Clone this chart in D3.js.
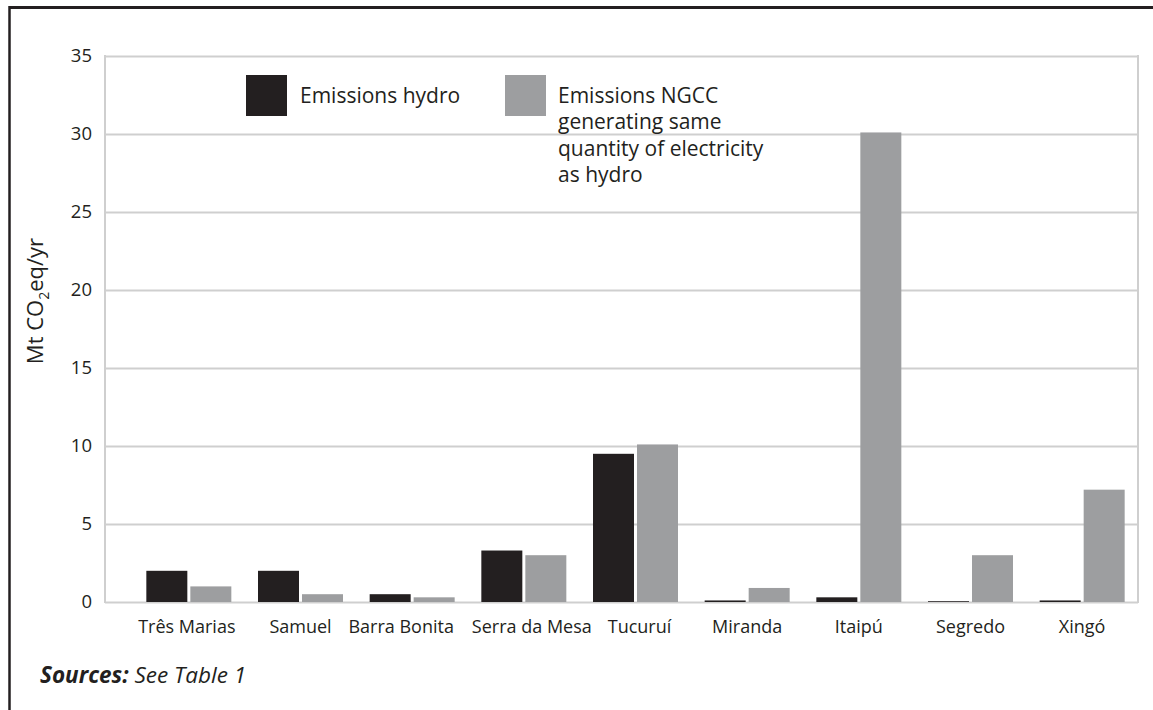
<!DOCTYPE html>
<html>
<head>
<meta charset="utf-8">
<script src="https://cdn.jsdelivr.net/npm/d3@7/dist/d3.min.js"></script>
<style>
  html, body { margin: 0; padding: 0; background: #fff; }
  svg { display: block; font-family: "Open Sans", "Noto Sans", sans-serif; }
</style>
</head>
<body>
<svg id="chart" width="1153" height="710"></svg>
<script>
const categories = ["Três Marias", "Samuel", "Barra Bonita", "Serra da Mesa", "Tucuruí", "Miranda", "Itaipú", "Segredo", "Xingó"];
const seriesNames = ["Emissions hydro", "Emissions NGCC generating same quantity of electricity as hydro"];
const hydroValues = [2.0, 2.0, 0.5, 3.3, 9.5, 0.1, 0.3, 0.05, 0.1];
const ngccValues = [1.0, 0.5, 0.3, 3.0, 10.1, 0.9, 30.1, 3.0, 7.2];
const yTicks = [0, 5, 10, 15, 20, 25, 30, 35];
const seriesColors = ["#231f20", "#9d9ea0"];

const svg = d3.select("#chart");
const plot = { left: 105, right: 1138, top: 56, bottom: 602 };

const y = d3.scaleLinear().domain([0, 35]).range([plot.bottom, plot.top]);
const x = d3.scaleBand().domain(categories).range([133, 1138])
  .paddingInner(1 - 85 / 111.67).paddingOuter((1 - 85 / 111.67) / 2);
const xs = d3.scaleBand().domain([0, 1]).range([0, x.bandwidth()]).paddingInner(3 / 44);

// frame
svg.append("line").attr("x1", 9).attr("x2", 1153).attr("y1", 7.5).attr("y2", 7.5)
  .attr("stroke", "#231f20").attr("stroke-width", 3);
svg.append("line").attr("x1", 9.5).attr("x2", 9.5).attr("y1", 6).attr("y2", 710)
  .attr("stroke", "#231f20").attr("stroke-width", 2.5);

// gridlines
const yAxis = d3.axisLeft(y).tickValues(yTicks).tickSize(-(plot.right - plot.left)).tickPadding(13);
const gy = svg.append("g").attr("transform", `translate(${plot.left},0)`).call(yAxis);
gy.select(".domain").remove();
gy.selectAll(".tick line").attr("stroke", "#cfcfcf").attr("stroke-width", 2);
gy.selectAll(".tick text").attr("font-size", 18.5).attr("fill", "#231f20")
  .attr("font-family", "'Open Sans', sans-serif");

// plot borders (left and right)
svg.append("line").attr("x1", plot.left).attr("x2", plot.left).attr("y1", plot.top - 1).attr("y2", plot.bottom + 1)
  .attr("stroke", "#cfcfcf").attr("stroke-width", 2);
svg.append("line").attr("x1", plot.right).attr("x2", plot.right).attr("y1", plot.top - 1).attr("y2", plot.bottom + 1)
  .attr("stroke", "#cfcfcf").attr("stroke-width", 2);

// bars
const data = categories.map((c, i) => ({ c, vals: [hydroValues[i], ngccValues[i]] }));
const groups = svg.append("g").selectAll("g").data(data).join("g")
  .attr("transform", d => `translate(${x(d.c)},0)`);
groups.selectAll("rect").data(d => d.vals.map((v, k) => ({ v, k }))).join("rect")
  .attr("x", d => xs(d.k))
  .attr("width", xs.bandwidth())
  .attr("y", d => y(d.v))
  .attr("height", d => y(0) - y(d.v))
  .attr("fill", d => seriesColors[d.k]);

// x axis labels
const xAxis = d3.axisBottom(x).tickSize(0).tickPadding(18);
const gx = svg.append("g").attr("transform", `translate(0,${plot.bottom})`).call(xAxis);
gx.select(".domain").remove();
const labelShift = { "Barra Bonita": -11, "Serra da Mesa": 8, "Tucuruí": 4, "Três Marias": -2 };
gx.selectAll(".tick text").attr("font-size", 18).attr("fill", "#231f20")
  .attr("font-family", "'Open Sans', sans-serif")
  .attr("dx", d => labelShift[d] || 0);

// y axis title
const yt = svg.append("text").attr("transform", "translate(43,301) rotate(-90)")
  .attr("text-anchor", "middle").attr("font-size", 22).attr("fill", "#231f20");
yt.append("tspan").text("Mt CO");
yt.append("tspan").text("2").attr("font-size", 14).attr("dy", 6);
yt.append("tspan").text("eq/yr").attr("dy", -6);

// legend
const leg = svg.append("g");
leg.append("rect").attr("x", 246).attr("y", 75).attr("width", 41).attr("height", 41).attr("fill", seriesColors[0]);
leg.append("text").attr("x", 300).attr("y", 103).attr("font-size", 21).attr("fill", "#231f20").text(seriesNames[0]);
leg.append("rect").attr("x", 505).attr("y", 75).attr("width", 41).attr("height", 41).attr("fill", seriesColors[1]);
const legLines = ["Emissions NGCC", "generating same", "quantity of electricity", "as hydro"];
leg.append("text").attr("font-size", 21).attr("fill", "#231f20")
  .selectAll("tspan").data(legLines).join("tspan")
  .attr("x", 558).attr("y", (d, i) => 103 + i * 26.3).text(d => d);

// sources
const src = svg.append("text").attr("x", 40).attr("y", 683).attr("font-size", 22.5)
  .attr("fill", "#231f20").attr("font-style", "italic");
src.append("tspan").attr("font-weight", "bold").text("Sources:");
src.append("tspan").text(" See Table 1");
</script>
</body>
</html>
